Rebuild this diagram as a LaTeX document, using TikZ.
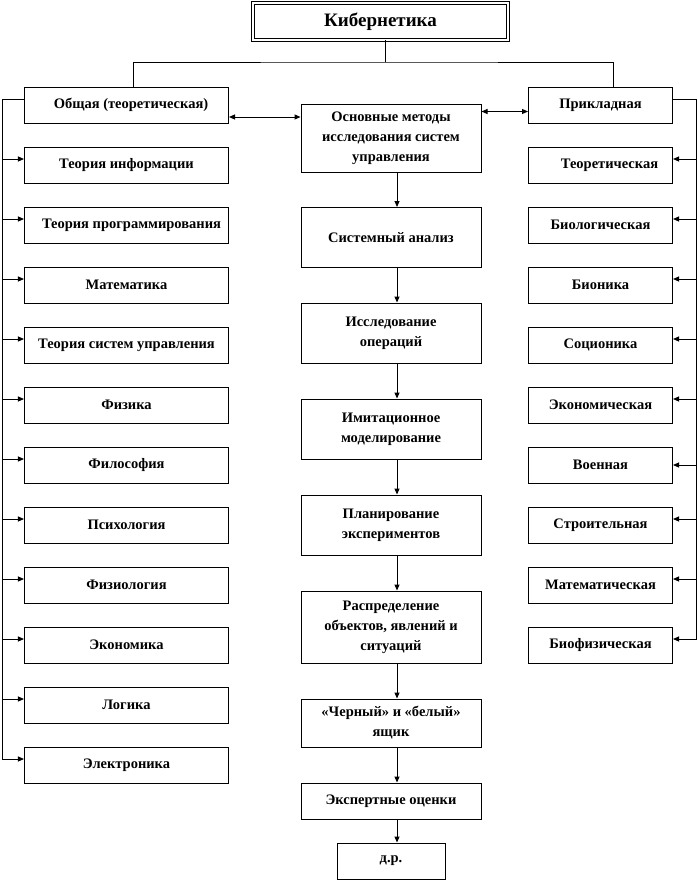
\documentclass[tikz,border=0pt]{standalone}
\usepackage{fontspec}
\setmainfont{Liberation Serif}
\usetikzlibrary{arrows.meta}
\tikzset{
  box/.style={draw, line width=1bp, rectangle, inner sep=2bp, align=center,
    font=\bfseries\fontsize{14.5bp}{20bp}\selectfont},
  lbox/.style={box, minimum width=204bp, minimum height=36bp},
  rbox/.style={box, minimum width=144bp, minimum height=36bp},
  mbox/.style={box, minimum width=180bp},
  titlebox/.style={draw, rectangle, line width=0.9bp, double, double distance=1.6bp,
    minimum width=255bp, minimum height=37bp,
    font=\bfseries\fontsize{19bp}{22bp}\selectfont},
  conn/.style={line width=1bp},
  arr/.style={line width=1bp, -{Triangle[length=6bp,width=5bp]}},
  darr/.style={line width=1bp, {Triangle[length=6bp,width=5bp]}-{Triangle[length=6bp,width=5bp]}}
}
\begin{document}
\begin{tikzpicture}[x=1bp,y=-1bp]
\useasboundingbox (0,0) rectangle (698,883);

% title
\node[titlebox] (title) at (380.5,21.5) {Кибернетика};

% left column
\node[lbox] (gen) at (126.5,105) {\hspace*{9bp}Общая (теоретическая)};
\node[lbox] (l1) at (126.5,165) {Теория информации};
\node[lbox] (l2) at (126.5,225) {\hspace*{10bp}Теория программирования};
\node[lbox] (l3) at (126.5,285) {Математика};
\node[lbox] (l4) at (126.5,345) {Теория систем управления};
\node[lbox] (l5) at (126.5,405) {Физика};
\node[lbox] (l6) at (126.5,465) {Философия};
\node[lbox] (l7) at (126.5,525) {Психология};
\node[lbox] (l8) at (126.5,585) {Физиология};
\node[lbox] (l9) at (126.5,645) {Экономика};
\node[lbox] (l10) at (126.5,705) {Логика};
\node[lbox] (l11) at (126.5,765) {Электроника};

% right column
\node[rbox] (app) at (600.5,105) {Прикладная};
\node[rbox] (r1) at (600.5,165) {\hspace*{18bp}Теоретическая};
\node[rbox] (r2) at (600.5,225) {Биологическая};
\node[rbox] (r3) at (600.5,285) {Бионика};
\node[rbox] (r4) at (600.5,345) {Соционика};
\node[rbox] (r5) at (600.5,405) {Экономическая};
\node[rbox] (r6) at (600.5,465) {Военная};
\node[rbox] (r7) at (600.5,525) {Строительная};
\node[rbox] (r8) at (600.5,585) {Математическая};
\node[rbox] (r9) at (600.5,645) {Биофизическая};

% middle column
\node[mbox, minimum height=68bp] (m0) at (391,138) {Основные методы\\исследования систем\\управления};
\node[mbox, minimum height=60bp] (m1) at (391,237.5) {Системный анализ};
\node[mbox, minimum height=60bp] (m2) at (391,333) {Исследование\\операций};
\node[mbox, minimum height=60bp] (m3) at (391,429) {Имитационное\\моделирование};
\node[mbox, minimum height=60bp] (m4) at (391,525) {Планирование\\экспериментов};
\node[mbox, minimum height=72bp] (m5) at (391,627) {Распределение\\объектов, явлений и\\ситуаций};
\node[mbox, minimum height=48bp] (m6) at (391,723) {«Черный» и «белый»\\ящик};
\node[mbox, minimum height=36bp] (m7) at (391,801) {Экспертные оценки};
\node[box, minimum width=108bp, minimum height=36bp] (m8) at (391,861) {д.р.};

% tree from title
\coordinate (j) at (385,62);
\draw[conn] (title.south -| j) -- (j);
\draw[conn] ([xshift=6.5bp]gen.north) |- (j) -| ([xshift=12.5bp]app.north);

% left bus
\coordinate (lb) at (2,0);
\draw[conn] ([yshift=6bp]gen.west) -- ([yshift=6bp]gen.west -| lb) -- ([yshift=6bp]l11.west -| lb);
\foreach \n in {l1,l2,l3,l4,l5,l6,l7,l8,l9,l10,l11}
  \draw[arr] ([yshift=6bp]\n.west -| lb) -- ([yshift=6bp]\n.west);

% right bus
\coordinate (rb) at (696.5,0);
\draw[conn] ([yshift=6bp]app.east) -- ([yshift=6bp]app.east -| rb) -- ([yshift=6bp]r9.east -| rb);
\foreach \n in {r1,r2,r3,r4,r5,r7,r8,r9}
  \draw[arr] ([yshift=6bp]\n.east -| rb) -- ([yshift=6bp]\n.east);
\draw[arr] (r6.east -| rb) -- (r6.east);

% double arrows
\draw[darr] ([yshift=-12bp]gen.east) -- ([yshift=-12bp]gen.east -| m0.west);
\draw[darr] ([yshift=-6.5bp]app.west -| m0.east) -- ([yshift=-6.5bp]app.west);

% middle chain
\foreach \a/\b in {m0/m1,m1/m2,m2/m3,m3/m4,m4/m5,m5/m6,m6/m7,m7/m8}
  \draw[arr] ([xshift=6bp]\a.south) -- ([xshift=6bp]\b.north);
\end{tikzpicture}
\end{document}
